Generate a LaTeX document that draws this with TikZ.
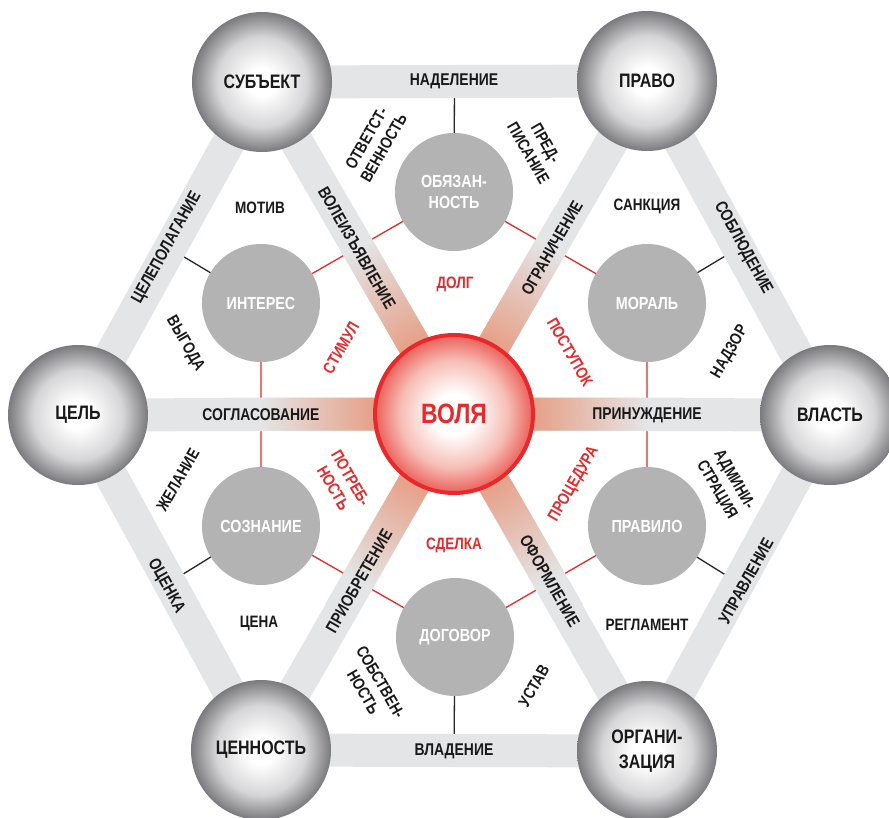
\documentclass[tikz,border=0pt]{standalone}
\usepackage{fontspec}
\setmainfont{Liberation Sans}[FakeStretch=0.82]
\usetikzlibrary{calc}
\definecolor{barg}{RGB}{228,229,231}
\definecolor{salm}{RGB}{230,162,138}
\definecolor{vred}{RGB}{232,40,42}
\definecolor{incg}{RGB}{179,179,179}
\definecolor{txt}{RGB}{25,25,25}
\definecolor{ballrim}{RGB}{122,122,126}
\definecolor{ballmid}{RGB}{214,214,216}
\definecolor{redrim}{RGB}{236,96,90}
\definecolor{redmid}{RGB}{246,190,182}
\pgfdeclareradialshading{ballgray}{\pgfpoint{0bp}{0bp}}{color(0bp)=(white); color(5bp)=(white); color(16bp)=(ballmid); color(25bp)=(ballrim); color(50bp)=(ballrim)}
\pgfdeclareradialshading{ballred}{\pgfpoint{0bp}{0bp}}{color(0bp)=(white); color(6.5bp)=(white); color(17bp)=(redmid); color(25bp)=(redrim); color(50bp)=(redrim)}
\pgfdeclareradialshading{spokeglow}{\pgfpoint{0bp}{0bp}}{color(0bp)=(salm); color(9bp)=(salm); color(21bp)=(barg); color(50bp)=(barg)}
\pgfdeclarelayer{bg}
\pgfsetlayers{bg,main}
\tikzset{
  bar/.style={line width=33pt, draw=barg},
  sphere/.style={circle, minimum size=140pt, inner sep=0pt, shading=ballgray, text=txt,
    font=\fontsize{19.5}{25}\selectfont\bfseries, align=center},
  innerc/.style={circle, minimum size=118pt, inner sep=0pt, fill=incg, text=white,
    font=\fontsize{17.5}{21.5}\selectfont\bfseries, align=center},
  lbl/.style={text=txt, font=\fontsize{16.5}{20}\selectfont\bfseries, align=center, inner sep=0pt},
  barlbl/.style={text=txt, font=\fontsize{17}{19}\selectfont\bfseries, inner sep=0pt},
  redlbl/.style={text=vred, font=\fontsize{16.5}{20}\selectfont\bfseries, align=center, inner sep=0pt},
  redlink/.style={draw=vred, line width=1.3pt},
  blklink/.style={draw=black!85, line width=1.3pt},
}
\begin{document}
\begin{tikzpicture}[x=1pt,y=-1pt]
\useasboundingbox (0,0) rectangle (889,817);
% centre
\node[circle, minimum size=158pt, inner sep=0pt, shading=ballred, draw=vred, line width=4pt,
  text=vred, font=\fontsize{28}{30}\selectfont\bfseries] (V) at (454,414) {ВОЛЯ};
% outer spheres
\node[sphere] (S) at (262,82) {СУБЪЕКТ};
\node[sphere] (P) at (647,81) {ПРАВО};
\node[sphere] (C) at (78,415) {ЦЕЛЬ};
\node[sphere] (W) at (830,415) {ВЛАСТЬ};
\node[sphere] (N) at (261,750) {ЦЕННОСТЬ};
\node[sphere] (O) at (647,751) {ОРГАНИ-\\ЗАЦИЯ};
% inner circles
\node[innerc] (ob) at (454,192) {ОБЯЗАН-\\НОСТЬ};
\node[innerc] (in) at (261,303) {ИНТЕРЕС};
\node[innerc] (mo) at (647,303) {МОРАЛЬ};
\node[innerc] (so) at (261,526) {СОЗНАНИЕ};
\node[innerc] (pr) at (647,526) {ПРАВИЛО};
\node[innerc] (do) at (455,637) {ДОГОВОР};
% edge midpoints
\coordinate (mSP) at ($(S.center)!0.5!(P.center)$);
\coordinate (mPW) at ($(P.center)!0.5!(W.center)$);
\coordinate (mWO) at ($(W.center)!0.5!(O.center)$);
\coordinate (mON) at ($(O.center)!0.5!(N.center)$);
\coordinate (mNC) at ($(N.center)!0.5!(C.center)$);
\coordinate (mCS) at ($(C.center)!0.5!(S.center)$);
\begin{pgfonlayer}{bg}
  \fill[white] (0,0) rectangle (889,817);
  % thin links
  \draw[blklink] (ob.center) -- (mSP);
  \draw[blklink] (mo.center) -- (mPW);
  \draw[blklink] (pr.center) -- (mWO);
  \draw[blklink] (do.center) -- (mON);
  \draw[blklink] (so.center) -- (mNC);
  \draw[blklink] (in.center) -- (mCS);
  \draw[redlink] (ob.center) -- (mo.center) -- (pr.center) -- (do.center) -- (so.center) -- (in.center) -- cycle;
  % hexagon bars
  \draw[bar] (S.center) -- (P.center) -- (W.center) -- (O.center) -- (N.center) -- (C.center) -- cycle;
  % spokes
  \draw[bar] (V.center) -- (S.center);
  \draw[bar] (V.center) -- (P.center);
  \draw[bar] (V.center) -- (W.center);
  \draw[bar] (V.center) -- (O.center);
  \draw[bar] (V.center) -- (N.center);
  \draw[bar] (V.center) -- (C.center);
  \begin{scope}
    \clip ($(V)+(0:235pt)+(90:16.5pt)$) -- ($(V)+(0:235pt)+(-90:16.5pt)$) -- ($(V)+(180:235pt)+(-90:16.5pt)$) -- ($(V)+(180:235pt)+(90:16.5pt)$) -- cycle
      ($(V)+(60:235pt)+(150:16.5pt)$) -- ($(V)+(60:235pt)+(-30:16.5pt)$) -- ($(V)+(240:235pt)+(-30:16.5pt)$) -- ($(V)+(240:235pt)+(150:16.5pt)$) -- cycle
      ($(V)+(120:235pt)+(210:16.5pt)$) -- ($(V)+(120:235pt)+(30:16.5pt)$) -- ($(V)+(300:235pt)+(30:16.5pt)$) -- ($(V)+(300:235pt)+(210:16.5pt)$) -- cycle;
    \shade[shading=spokeglow] (V) circle (230pt);
  \end{scope}
\end{pgfonlayer}
% hexagon edge labels
\node[barlbl] (tSP) at (454,81) {НАДЕЛЕНИЕ};
\node[barlbl] (tON) at (454,751) {ВЛАДЕНИЕ};
\node[barlbl, rotate=61] (tCS) at (167,248) {ЦЕЛЕПОЛАГАНИЕ};
\node[barlbl, rotate=-61] (tPW) at (743,248) {СОБЛЮДЕНИЕ};
\node[barlbl, rotate=61] (tWO) at (746,581) {УПРАВЛЕНИЕ};
\node[barlbl, rotate=-61] (tNC) at (166,586) {ОЦЕНКА};
% spoke labels
\node[barlbl, rotate=-60] (tVS) at (357,248) {ВОЛЕИЗЪЯВЛЕНИЕ};
\node[barlbl, rotate=60] (tVP) at (552,248) {ОГРАНИЧЕНИЕ};
\node[barlbl] (tVW) at (647,415) {ПРИНУЖДЕНИЕ};
\node[barlbl] (tVC) at (261,415) {СОГЛАСОВАНИЕ};
\node[barlbl, rotate=60] (tVN) at (359,581) {ПРИОБРЕТЕНИЕ};
\node[barlbl, rotate=-60] (tVO) at (550,581) {ОФОРМЛЕНИЕ};
% black labels
\node[lbl] (l1) at (260,208) {МОТИВ};
\node[lbl, rotate=-60] (l2) at (185,344) {ВЫГОДА};
\node[lbl, rotate=60] (l3) at (375,143) {ОТВЕТСТ-\\ВЕННОСТЬ};
\node[lbl, rotate=-60] (l4) at (537,148) {ПРЕД-\\ПИСАНИЕ};
\node[lbl] (l5) at (647,206) {САНКЦИЯ};
\node[lbl, rotate=60] (l6) at (730,352) {НАДЗОР};
\node[lbl, rotate=-60] (l7) at (725,485) {АДМИНИ-\\СТРАЦИЯ};
\node[lbl] (l8) at (647,625) {РЕГЛАМЕНТ};
\node[lbl, rotate=60] (l9) at (534,686) {УСТАВ};
\node[lbl, rotate=-60] (l10) at (372,687) {СОБСТВЕН-\\НОСТЬ};
\node[lbl] (l11) at (259,623) {ЦЕНА};
\node[lbl, rotate=60] (l12) at (178,480) {ЖЕЛАНИЕ};
% red labels
\node[redlbl] (r1) at (455,284) {ДОЛГ};
\node[redlbl, rotate=60] (r2) at (341,348) {СТИМУЛ};
\node[redlbl, rotate=-60] (r3) at (570,352) {ПОСТУПОК};
\node[redlbl, rotate=60] (r4) at (574,484) {ПРОЦЕДУРА};
\node[redlbl] (r5) at (454,545) {СДЕЛКА};
\node[redlbl, rotate=-60] (r6) at (342,483) {ПОТРЕБ-\\НОСТЬ};
\end{tikzpicture}
\end{document}
